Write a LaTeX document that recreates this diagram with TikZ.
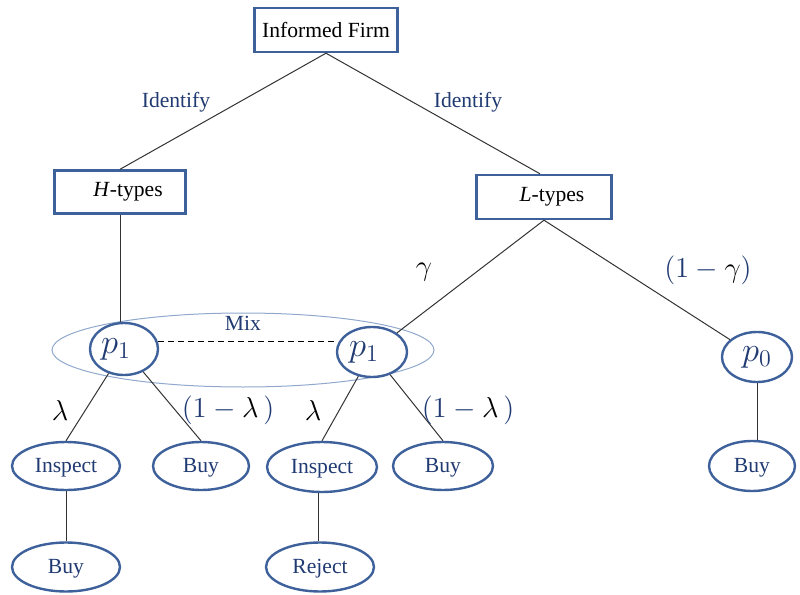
\documentclass[tikz,border=0pt]{standalone}
\usepackage{fontspec}
\setmainfont{Liberation Serif}
\usetikzlibrary{shapes.geometric}
\definecolor{navy}{HTML}{203A72}
\definecolor{edgeblue}{HTML}{3E619B}
\definecolor{mixblue}{HTML}{8FA8CC}
\begin{document}
\begin{tikzpicture}[x=0.5pt,y=-0.5pt,
  tbox/.style={draw=edgeblue,line width=1.2pt,rectangle,inner sep=0pt,font=\fontsize{10.8}{12}\selectfont,text=black},
  ell/.style={draw=edgeblue,line width=1.2pt,ellipse,inner sep=0pt,font=\fontsize{10.8}{12}\selectfont,text=navy,text height=0.68em,text depth=0.08em},
  pell/.style={draw=edgeblue,line width=1.2pt,ellipse,inner sep=0pt,font=\fontsize{16.5}{18}\selectfont,text=navy},
  conn/.style={draw=black!80,line width=0.5pt},
  lbl/.style={font=\fontsize{10.8}{12}\selectfont,text=navy},
  mlbl/.style={font=\fontsize{14}{16}\selectfont,text=black}]
\path[use as bounding box] (0,0) rectangle (800,595);
% boxes
\node[tbox,minimum width=71.5pt,minimum height=22pt] (firm) at (326,30) {Informed Firm};
\node[tbox,minimum width=65.5pt,minimum height=21.5pt] (H) at (120,192) {\hspace*{8pt}\textit{H}-types};
\node[tbox,minimum width=67.5pt,minimum height=22pt] (L) at (544,197) {\hspace*{8pt}\textit{L}-types};
% mix ellipse
\node[draw=mixblue,line width=0.5pt,ellipse,minimum width=191pt,minimum height=37pt,inner sep=0pt] (mix) at (243,350) {};
\node[lbl] (mixlbl) at (243,323) {Mix};
% p nodes
\node[pell,minimum width=34pt,minimum height=26pt] (p1l) at (124,349) {\hspace*{-8pt}$p_1$};
\node[pell,minimum width=35pt,minimum height=25pt] (p1r) at (372,352) {\hspace*{-8pt}$p_1$};
\node[pell,minimum width=35pt,minimum height=25pt] (p0) at (757,357) {$p_0$};
% action ellipses
\node[ell,minimum width=54pt,minimum height=24pt] (insl) at (66,466) {Inspect};
\node[ell,minimum width=48pt,minimum height=24pt] (buyl) at (201,466) {Buy};
\node[ell,minimum width=55pt,minimum height=25pt] (insm) at (322,467) {Inspect};
\node[ell,minimum width=50pt,minimum height=24pt] (buym) at (443,466) {Buy};
\node[ell,minimum width=43pt,minimum height=25pt] (buyr) at (752,466) {Buy};
\node[ell,minimum width=54pt,minimum height=24.5pt] (buyb) at (66,567) {Buy};
\node[ell,minimum width=54pt,minimum height=24.5pt] (rej) at (320,567) {Reject};
% connectors
\draw[conn] (firm.south) -- (H.north);
\draw[conn] (firm.south) -- ([xshift=-2pt]L.north);
\draw[conn] (H.south) -- (H.south |- p1l.north);
\draw[conn] (L.south) -- (p1r);
\draw[conn] (L.south) -- (p0);
\draw[conn] (p0.south) -- (p0.south |- buyr.north);
\draw[conn] (p1l) -- (insl.north);
\draw[conn] (p1l) -- (buyl.north);
\draw[conn] (p1r) -- (insm.north);
\draw[conn] (p1r) -- (buym.north);
\draw[conn] (insl.south) -- (buyb.north);
\draw[conn] ([xshift=-2pt]insm.south) -- ([xshift=-1pt]rej.north);
\draw[black,line width=0.6pt,dash pattern=on 3pt off 2pt] (p1l.12) -- (p1l.12 -| p1r.west);
% labels
\node[lbl] (id1) at (176,102) {Identify};
\node[lbl] (id2) at (468,102) {Identify};
\node[mlbl] (g) at (424,272) {$\gamma$};
\node[mlbl] (omg) at (708,270) {$\textcolor{navy}{(1}\mathbin{\textcolor{navy}{-}}\gamma\textcolor{navy}{)}$};
\node[mlbl] (lam1) at (60,410) {$\lambda$};
\node[mlbl] (oml1) at (228,410) {$\textcolor{navy}{(1}\mathbin{\textcolor{navy}{-}}\lambda\textcolor{navy}{\,)}$};
\node[mlbl] (lam2) at (313,410) {$\lambda$};
\node[mlbl] (oml2) at (468,410) {$\textcolor{navy}{(1}\mathbin{\textcolor{navy}{-}}\lambda\textcolor{navy}{\,)}$};
\end{tikzpicture}
\end{document}
